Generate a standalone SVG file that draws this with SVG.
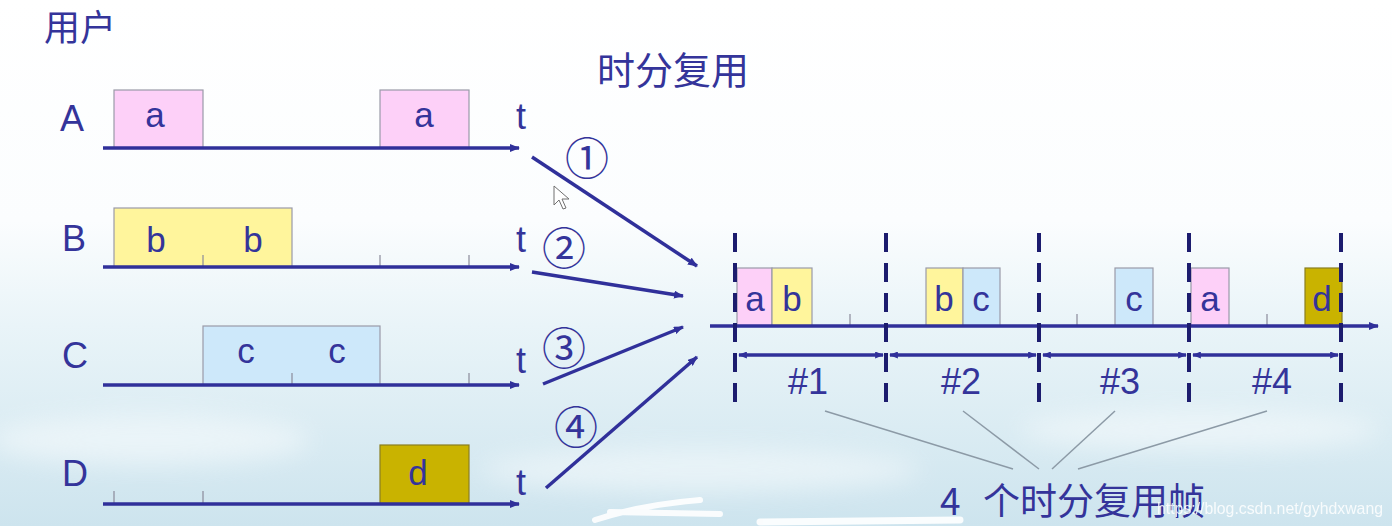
<svg xmlns="http://www.w3.org/2000/svg" width="1392" height="526" viewBox="0 0 1392 526">
<defs>
  <linearGradient id="bg" x1="0" y1="0" x2="0" y2="1">
    <stop offset="0" stop-color="#ffffff"/>
    <stop offset="0.42" stop-color="#fbfdfe"/>
    <stop offset="0.62" stop-color="#e9f4f8"/>
    <stop offset="1" stop-color="#cde4ee"/>
  </linearGradient>
  <filter id="blur" x="-20%" y="-50%" width="140%" height="200%"><feGaussianBlur stdDeviation="12"/></filter>
  <marker id="ah" viewBox="0 0 10 8" refX="9" refY="4" markerWidth="10" markerHeight="8" markerUnits="userSpaceOnUse" orient="auto">
    <path d="M0,0 L10,4 L0,8 z" fill="#30309a"/>
  </marker>
  <marker id="ahs" viewBox="0 0 10 8" refX="9" refY="4" markerWidth="9" markerHeight="7" markerUnits="userSpaceOnUse" orient="auto-start-reverse">
    <path d="M0,0 L10,4 L0,8 z" fill="#30309a"/>
  </marker>
  <style>
    .lbl{font-family:"Liberation Sans",Arial,sans-serif;font-size:36px;fill:#34349a}
    .box{font-family:"Liberation Sans",Arial,sans-serif;font-size:35px;fill:#34349a;text-anchor:middle}
    .cjk{font-family:"Noto Sans CJK SC",sans-serif;fill:#34349a}
    .circ{font-family:"Noto Sans CJK SC",sans-serif;font-size:44px;fill:#34349a;text-anchor:middle}
    .axis{stroke:#30309a;stroke-width:3.5;fill:none}
    .tick{stroke:#8a8a9a;stroke-width:1.2}
    .pink{fill:#fdd0f8;stroke:#9a9aa8;stroke-width:1.2}
    .yel{fill:#fff59c;stroke:#9a9aa8;stroke-width:1.2}
    .blu{fill:#cde8fa;stroke:#9a9aa8;stroke-width:1.2}
    .olv{fill:#c9b300;stroke:#8a7e20;stroke-width:1.2}
    .conn{stroke:#30309a;stroke-width:3.5;fill:none}
    .dash{stroke:#1c1c6e;stroke-width:4;stroke-dasharray:19 11;fill:none}
    .grey{stroke:#8c9aa6;stroke-width:1.5;fill:none}
  </style>
</defs>
<rect x="0" y="0" width="1392" height="526" fill="url(#bg)"/>
<g filter="url(#blur)" fill="#ffffff" opacity="0.45">
  <ellipse cx="150" cy="440" rx="160" ry="25"/>
  <ellipse cx="700" cy="470" rx="220" ry="22"/>
  <ellipse cx="1200" cy="430" rx="180" ry="20"/>
</g>

<g id="titles">
  <text class="cjk" x="44" y="41" font-size="36">用户</text>
  <text class="cjk" x="597" y="84" font-size="38">时分复用</text>
</g>

<g id="userA">
  <text class="lbl" x="60" y="131">A</text>
  <rect class="pink" x="114" y="90" width="89" height="58"/>
  <rect class="pink" x="380" y="90" width="89" height="58"/>
  <text class="box" x="155" y="127">a</text>
  <text class="box" x="424" y="127">a</text>
  <line class="axis" x1="103" y1="148" x2="519" y2="148" marker-end="url(#ah)"/>
  <text class="lbl" x="516" y="129">t</text>
</g>

<g id="userB">
  <text class="lbl" x="62" y="251">B</text>
  <rect class="yel" x="114" y="208" width="178" height="59"/>
  <line class="tick" x1="203" y1="255" x2="203" y2="267"/>
  <line class="tick" x1="380" y1="255" x2="380" y2="267"/>
  <line class="tick" x1="469" y1="255" x2="469" y2="267"/>
  <text class="box" x="156" y="252">b</text>
  <text class="box" x="253" y="252">b</text>
  <line class="axis" x1="103" y1="267" x2="519" y2="267" marker-end="url(#ah)"/>
  <text class="lbl" x="516" y="252">t</text>
</g>

<g id="userC">
  <text class="lbl" x="62" y="368">C</text>
  <rect class="blu" x="203" y="326" width="177" height="59"/>
  <line class="tick" x1="292" y1="373" x2="292" y2="385"/>
  <line class="tick" x1="469" y1="373" x2="469" y2="385"/>
  <text class="box" x="246" y="363">c</text>
  <text class="box" x="337" y="363">c</text>
  <line class="axis" x1="103" y1="385" x2="519" y2="385" marker-end="url(#ah)"/>
  <text class="lbl" x="516" y="373">t</text>
</g>

<g id="userD">
  <text class="lbl" x="62" y="486">D</text>
  <rect class="olv" x="380" y="445" width="89" height="59"/>
  <line class="tick" x1="114" y1="491" x2="114" y2="504"/>
  <line class="tick" x1="203" y1="491" x2="203" y2="504"/>
  <text class="box" x="418" y="485">d</text>
  <line class="axis" x1="103" y1="504" x2="519" y2="504" marker-end="url(#ah)"/>
  <text class="lbl" x="516" y="495">t</text>
</g>

<g id="connectors">
  <line class="conn" x1="532" y1="157" x2="697" y2="266" marker-end="url(#ah)"/>
  <line class="conn" x1="532" y1="272" x2="683" y2="296" marker-end="url(#ah)"/>
  <line class="conn" x1="543" y1="384" x2="683" y2="327" marker-end="url(#ah)"/>
  <line class="conn" x1="546" y1="488" x2="697" y2="357" marker-end="url(#ah)"/>
  <text class="circ" x="587" y="175">①</text>
  <text class="circ" x="564" y="265">②</text>
  <text class="circ" x="564" y="365">③</text>
  <text class="circ" x="576" y="444">④</text>
</g>

<g id="frames">
  <rect class="pink" x="737" y="268" width="35" height="58"/>
  <rect class="yel" x="772" y="268" width="40" height="58"/>
  <rect class="yel" x="926" y="268" width="37" height="58"/>
  <rect class="blu" x="963" y="268" width="37" height="58"/>
  <rect class="blu" x="1115" y="268" width="38" height="58"/>
  <rect class="pink" x="1191" y="268" width="38" height="58"/>
  <rect class="olv" x="1305" y="268" width="37" height="58"/>
  <line class="tick" x1="850" y1="314" x2="850" y2="326"/>
  <line class="tick" x1="1077" y1="314" x2="1077" y2="326"/>
  <line class="tick" x1="1267" y1="314" x2="1267" y2="326"/>
  <text class="box" x="755" y="311">a</text>
  <text class="box" x="792" y="311">b</text>
  <text class="box" x="944" y="311">b</text>
  <text class="box" x="981" y="311">c</text>
  <text class="box" x="1134" y="311">c</text>
  <text class="box" x="1210" y="311">a</text>
  <text class="box" x="1322" y="311">d</text>
  <line class="axis" x1="710" y1="326" x2="1378" y2="326" marker-end="url(#ah)"/>
  <line class="dash" x1="735" y1="233" x2="735" y2="402"/>
  <line class="dash" x1="886" y1="233" x2="886" y2="402"/>
  <line class="dash" x1="1039" y1="233" x2="1039" y2="402"/>
  <line class="dash" x1="1189" y1="233" x2="1189" y2="402"/>
  <line class="dash" x1="1341" y1="233" x2="1341" y2="402"/>
  <line class="axis" x1="739" y1="355" x2="883" y2="355" marker-start="url(#ahs)" marker-end="url(#ahs)"/>
  <line class="axis" x1="890" y1="355" x2="1036" y2="355" marker-start="url(#ahs)" marker-end="url(#ahs)"/>
  <line class="axis" x1="1043" y1="355" x2="1186" y2="355" marker-start="url(#ahs)" marker-end="url(#ahs)"/>
  <line class="axis" x1="1193" y1="355" x2="1338" y2="355" marker-start="url(#ahs)" marker-end="url(#ahs)"/>
  <text class="lbl" x="808" y="394" text-anchor="middle">#1</text>
  <text class="lbl" x="961" y="394" text-anchor="middle">#2</text>
  <text class="lbl" x="1120" y="394" text-anchor="middle">#3</text>
  <text class="lbl" x="1272" y="394" text-anchor="middle">#4</text>
</g>

<g id="caption">
  <line class="grey" x1="825" y1="411" x2="1013" y2="469"/>
  <line class="grey" x1="963" y1="411" x2="1039" y2="469"/>
  <line class="grey" x1="1115" y1="411" x2="1052" y2="469"/>
  <line class="grey" x1="1267" y1="411" x2="1078" y2="469"/>
  <text class="cjk" x="940" y="515" font-size="37">4 <tspan x="983">个时分复用帧</tspan></text>
  <text x="1157" y="514" font-family="Liberation Sans, Arial, sans-serif" font-size="17" fill="#ffffff" opacity="0.85" textLength="226" lengthAdjust="spacingAndGlyphs">https://blog.csdn.net/gyhdxwang</text>
</g>

<g id="cursor">
  <path d="M554,186 L554,205 L559,200 L563,209 L566,208 L562,199 L569,199 Z" fill="#ffffff" stroke="#707070" stroke-width="1"/>
</g>
<g id="scribbles" stroke="#ffffff" stroke-linecap="round" fill="none" opacity="0.9">
  <path d="M595,520 Q640,505 700,500 M610,512 L720,514" stroke-width="6"/>
  <path d="M760,522 L960,520" stroke-width="7"/>
</g>
</svg>
